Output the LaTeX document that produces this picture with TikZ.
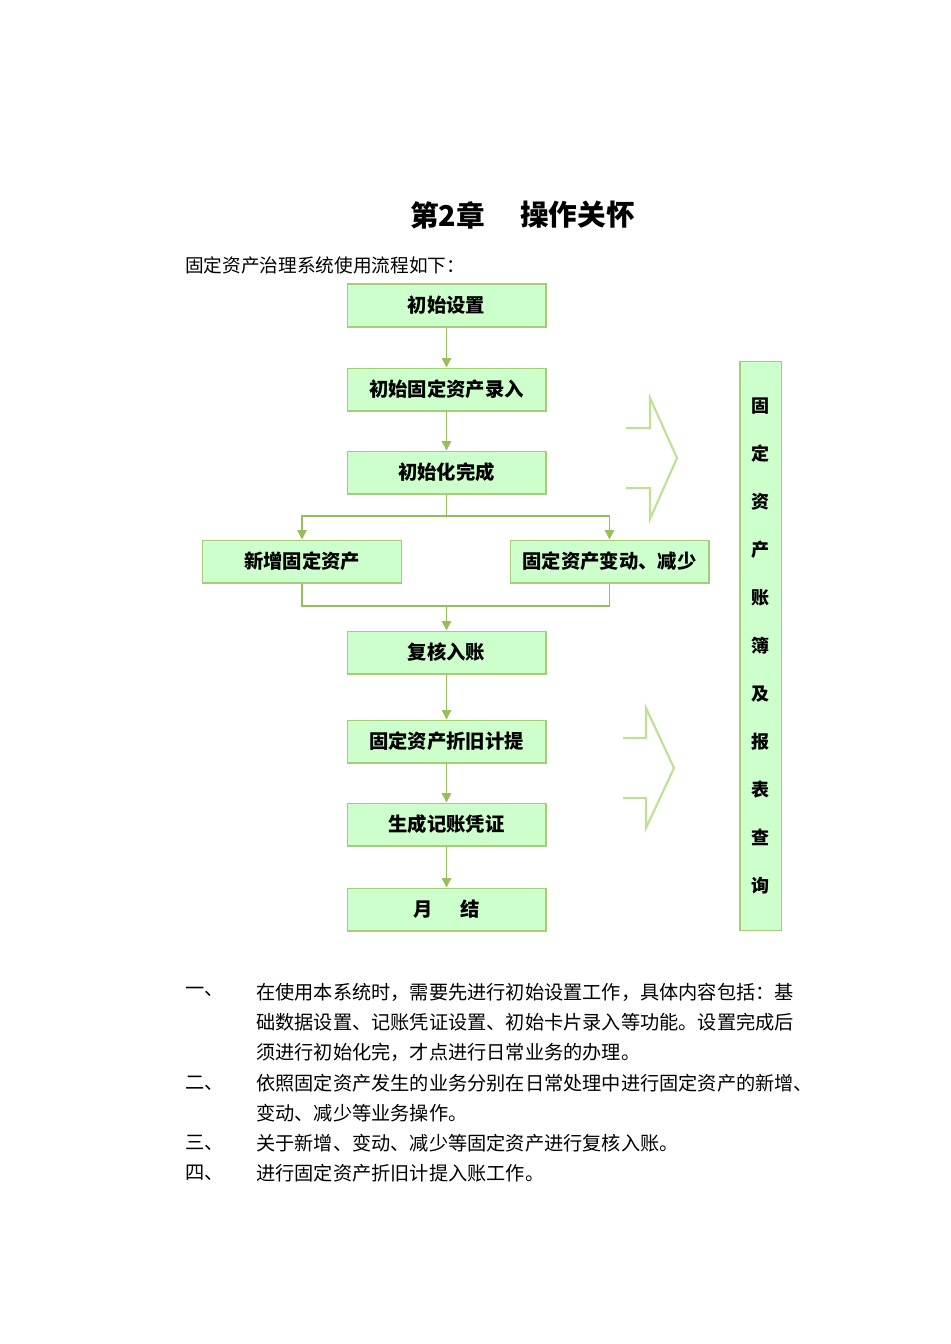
\documentclass[tikz,border=0pt]{standalone}
\usepackage{fontspec}
\setmainfont{Noto Sans CJK SC}
\usetikzlibrary{arrows.meta}
\definecolor{boxfill}{RGB}{204,255,204}
\definecolor{boxline}{RGB}{165,205,120}
\definecolor{flowline}{RGB}{150,190,90}
\definecolor{chevron}{RGB}{190,225,150}

\begin{document}
\begin{tikzpicture}[x=0.75pt, y=-0.75pt,
  procbox/.style={draw=boxline, fill=boxfill, line width=1pt,
    minimum width=149pt, minimum height=32pt, inner sep=0pt,
    font=\bfseries\fontsize{14.5}{17}\selectfont},
  ledgerbox/.style={draw=boxline, fill=boxfill, line width=1pt,
    minimum width=31pt, minimum height=427pt, inner sep=0pt, align=center,
    font=\bfseries\fontsize{13.5}{36}\selectfont},
  flowlink/.style={draw=flowline, line width=1pt},
  flow/.style={flowlink, -{Triangle[width=7pt,length=7pt]}},
  bigarrow/.style={draw=chevron, line width=1.6pt, line join=miter},
  bodytext/.style={anchor=west, inner sep=0pt, font=\fontsize{14.4}{17}\selectfont}]

  \useasboundingbox (0,0) rectangle (950,1344);

  % heading
  \node[anchor=west, inner sep=0pt, font=\bfseries\fontsize{21.5}{24}\selectfont] (chapno) at (410,215) {第2章};
  \node[anchor=west, inner sep=0pt, font=\bfseries\fontsize{21.5}{24}\selectfont] (chaptitle) at (520,215) {操作关怀};
  \node[bodytext, font=\fontsize{14}{17}\selectfont] (intro) at (185,265) {固定资产治理系统使用流程如下：};

  % main flow
  \node[procbox] (init) at (446.5,305.5) {初始设置};
  \node[procbox] (entry) at (446.5,389.5) {初始固定资产录入};
  \node[procbox] (done) at (446.5,472.5) {初始化完成};
  \node[procbox] (addnew) at (302,561.5) {新增固定资产};
  \node[procbox] (change) at (609.5,561.5) {固定资产变动、减少};
  \node[procbox] (review) at (446.5,652.5) {复核入账};
  \node[procbox] (deprec) at (446.5,741.5) {固定资产折旧计提};
  \node[procbox] (voucher) at (446.5,824.5) {生成记账凭证};
  \node[procbox] (monthend) at (446.5,909.5) {月\hspace{21pt}结};

  % ledger column
  \node[ledgerbox] (ledger) at (760.5,646)
    {固\\定\\资\\产\\账\\簿\\及\\报\\表\\查\\询};

  % connectors
  \draw[flow] (init) -- (entry);
  \draw[flow] (entry) -- (done);
  \coordinate (split) at (446.5,516);
  \draw[flowlink] (done) -- (split);
  \draw[flow] (split) -| (addnew.north);
  \draw[flow] (split) -| (change.north);
  \coordinate (merge) at (446.5,606);
  \draw[flowlink] (addnew.south) -- (addnew.south |- merge)
    -- (change.south |- merge) -- (change.south);
  \draw[flow] (merge) -- (review);
  \draw[flow] (review) -- (deprec);
  \draw[flow] (deprec) -- (voucher);
  \draw[flow] (voucher) -- (monthend);

  % big arrows
  \draw[bigarrow] (626,428) -- (650,428) -- (650,398) -- (677,458)
    -- (650,519) -- (650,488) -- (626,488);
  \draw[bigarrow] (623,738) -- (646,738) -- (646,708) -- (674,768)
    -- (646,828) -- (646,798) -- (623,798);

  % notes
  \node[bodytext] (mark1) at (185,992) {一、};
  \node[bodytext] (note1a) at (256,992) {在使用本系统时，需要先进行初始设置工作，具体内容包括：基};
  \node[bodytext] (note1b) at (256,1022) {础数据设置、记账凭证设置、初始卡片录入等功能。设置完成后};
  \node[bodytext] (note1c) at (256,1052) {须进行初始化完，才点进行日常业务的办理。};
  \node[bodytext] (mark2) at (185,1083) {二、};
  \node[bodytext] (note2a) at (256,1083) {依照固定资产发生的业务分别在日常处理中进行固定资产的新增、};
  \node[bodytext] (note2b) at (256,1113) {变动、减少等业务操作。};
  \node[bodytext] (mark3) at (185,1143) {三、};
  \node[bodytext] (note3) at (256,1143) {关于新增、变动、减少等固定资产进行复核入账。};
  \node[bodytext] (mark4) at (185,1173) {四、};
  \node[bodytext] (note4) at (256,1173) {进行固定资产折旧计提入账工作。};
\end{tikzpicture}
\end{document}
